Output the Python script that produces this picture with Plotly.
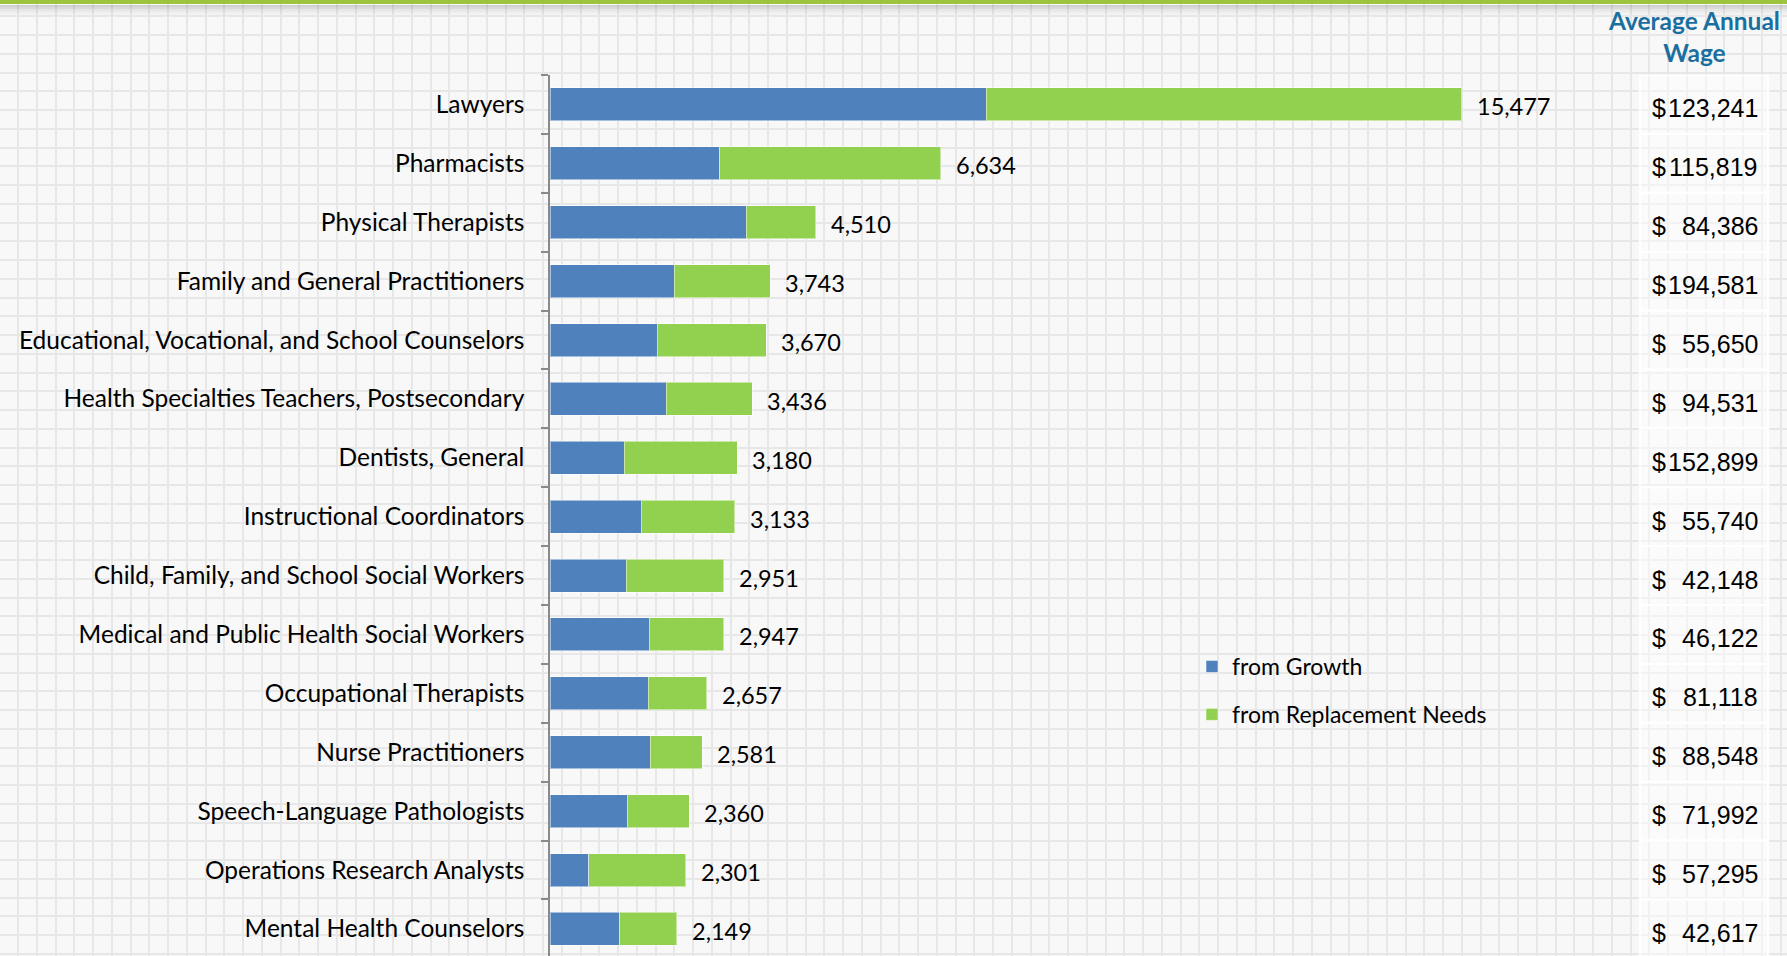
import plotly.graph_objects as go

categories = [
    "Lawyers", "Pharmacists", "Physical Therapists", "Family and General Practitioners",
    "Educational, Vocational, and School Counselors", "Health Specialties Teachers, Postsecondary",
    "Dentists, General", "Instructional Coordinators", "Child, Family, and School Social Workers",
    "Medical and Public Health Social Workers", "Occupational Therapists", "Nurse Practitioners",
    "Speech-Language Pathologists", "Operations Research Analysts", "Mental Health Counselors",
]
from_growth = [7410, 2883, 3328, 2109, 1819, 1973, 1258, 1548, 1296, 1683, 1664, 1702, 1315, 658, 1180]
from_replacement = [8067, 3751, 1182, 1634, 1851, 1463, 1922, 1585, 1655, 1264, 993, 879, 1045, 1643, 969]
totals = [15477, 6634, 4510, 3743, 3670, 3436, 3180, 3133, 2951, 2947, 2657, 2581, 2360, 2301, 2149]
wages = [123241, 115819, 84386, 194581, 55650, 94531, 152899, 55740, 42148, 46122, 81118, 88548, 71992, 57295, 42617]

W, H = 1787, 956
LABEL_FONT = "Lato"
BLUE = "#4F81BD"
GREEN = "#92D050"

fig = go.Figure()

# invisible trace to keep background grid subplot alive
fig.add_trace(go.Scatter(x=[None], y=[None], xaxis="x", yaxis="y", showlegend=False, hoverinfo="skip"))

fig.add_trace(go.Bar(
    y=categories, x=from_growth, orientation="h", name="from Growth",
    marker=dict(color=BLUE, line=dict(color="rgba(255,255,255,0.5)", width=1)),
    xaxis="x2", yaxis="y2", legendgroup="g1", hoverinfo="x+y",
))
fig.add_trace(go.Bar(
    y=categories, x=from_replacement, orientation="h", name="from Replacement Needs",
    marker=dict(color=GREEN, line=dict(color="rgba(255,255,255,0.5)", width=1)),
    xaxis="x2", yaxis="y2", legendgroup="g2", hoverinfo="x+y",
))

annotations = []
for cat, t in zip(categories, totals):
    annotations.append(dict(
        x=t, y=cat, xref="x2", yref="y2", text=f"{t:,}", showarrow=False,
        xanchor="left", yanchor="middle", xshift=13, yshift=-2,
        font=dict(family=LABEL_FONT, size=23.5, color="black"),
    ))
for cat, w in zip(categories, wages):
    annotations.append(dict(
        x=1650 / W, y=cat, xref="paper", yref="y2", text="$", showarrow=False,
        xanchor="left", yanchor="middle", yshift=-4,
        font=dict(family="Liberation Sans", size=25, color="black"),
    ))
    annotations.append(dict(
        x=1760 / W, y=cat, xref="paper", yref="y2", text=f"{w:,}", showarrow=False,
        xanchor="right", yanchor="middle", yshift=-4,
        font=dict(family="Liberation Sans", size=25, color="black"),
    ))
annotations.append(dict(
    x=1694 / W, y=1 - 36 / H, xref="paper", yref="paper", showarrow=False,
    text="<b>Average Annual<br>Wage</b>", xanchor="center", yanchor="middle",
    font=dict(family=LABEL_FONT, size=24.5, color="#1B6FA0"),
))

shapes = []
for i, cat in enumerate(categories):
    shapes.append(dict(
        type="rect", xref="paper", yref="y2", x0=1640 / W, x1=1768 / W,
        y0=i - 0.5, y1=i + 0.5, layer="above",
        line=dict(color="white", width=2), fillcolor="rgba(255,255,255,0.45)",
    ))
# top green rule with soft shadow
shapes.append(dict(type="rect", xref="paper", yref="paper", x0=0, x1=1, y0=1 - 4 / H, y1=1,
                   line=dict(width=0), fillcolor="#9CC43C", layer="above"))
for k, a in enumerate([0.3, 0.22, 0.14, 0.08, 0.04]):
    shapes.append(dict(type="rect", xref="paper", yref="paper", x0=0, x1=1,
                       y0=1 - (5 + 2 * k + 2) / H, y1=1 - (5 + 2 * k) / H,
                       line=dict(width=0), fillcolor=f"rgba(120,120,120,{a})", layer="above"))

fig.update_layout(
    width=W, height=H,
    margin=dict(l=0, r=0, t=0, b=0),
    paper_bgcolor="#f8f8f8", plot_bgcolor="rgba(0,0,0,0)",
    barmode="stack", bargap=0.44,
    showlegend=True,
    legend=dict(
        x=1192 / W, y=1 - 645 / H, xanchor="left", yanchor="top",
        font=dict(family=LABEL_FONT, size=23, color="black"),
        bgcolor="rgba(0,0,0,0)", tracegroupgap=15, itemwidth=30, traceorder="grouped",
    ),
    xaxis=dict(domain=[0, 1], range=[0, W], showgrid=True, dtick=18.75, tick0=18,
               gridcolor="#e7e7e7", gridwidth=1.5, showticklabels=False, zeroline=False,
               showline=False, ticks="", fixedrange=True),
    yaxis=dict(domain=[0, 1], range=[H, 0], showgrid=True, dtick=18.75, tick0=16.25,
               gridcolor="#e7e7e7", gridwidth=1.5, showticklabels=False, zeroline=False,
               showline=False, ticks="", fixedrange=True, anchor="x"),
    xaxis2=dict(domain=[550 / W, 1], range=[0, 21000], anchor="y2", visible=False, fixedrange=True),
    yaxis2=dict(domain=[0, 1 - 75 / H], anchor="x2", type="category",
                categoryorder="array", categoryarray=categories,
                range=[14.46, -0.5], showline=True, linecolor="#8a8a8a", linewidth=1.5,
                ticks="outside", tickson="boundaries", ticklen=7, tickcolor="#8a8a8a", tickwidth=1.5,
                showgrid=False, zeroline=False, ticklabelstandoff=19,
                tickfont=dict(family=LABEL_FONT, size=24.5, color="black"), fixedrange=True),
    annotations=annotations,
    shapes=shapes,
)

fig.write_html("out.html", config={"displayModeBar": False},
               post_script="document.body.style.margin='0';")
